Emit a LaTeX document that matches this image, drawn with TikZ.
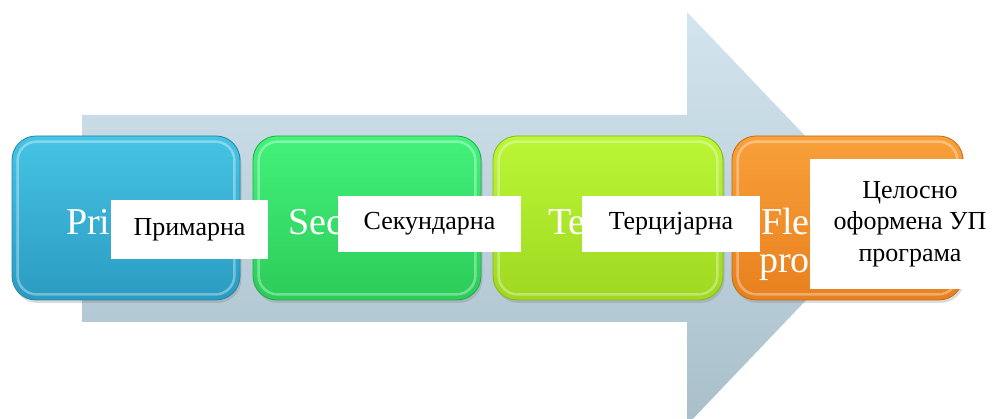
\documentclass[tikz,border=0pt]{standalone}
\usepackage{fontspec}
\setmainfont{Liberation Serif}
\usetikzlibrary{shadows}

% colours of the process boxes and the backdrop arrow
\definecolor{cyantop}{HTML}{46C4E4}
\definecolor{cyanbot}{HTML}{2A9BC1}
\definecolor{cyanedge}{HTML}{2682A5}
\definecolor{greentop}{HTML}{42F27B}
\definecolor{greenbot}{HTML}{2CCC58}
\definecolor{greenedge}{HTML}{24A84A}
\definecolor{limetop}{HTML}{BBF737}
\definecolor{limebot}{HTML}{9FD820}
\definecolor{limeedge}{HTML}{86B81A}
\definecolor{orangetop}{HTML}{F8A03A}
\definecolor{orangebot}{HTML}{E8801E}
\definecolor{orangeedge}{HTML}{C56A15}
\definecolor{arrowtop}{HTML}{D3E5EF}
\definecolor{arrowbot}{HTML}{A8BFCA}

\begin{document}
\begin{tikzpicture}[x=1pt,y=-1pt,
  stepbox/.style={rounded corners=24pt, minimum width=#1, minimum height=164pt,
    inner sep=0pt, line width=0.8pt,
    drop shadow={opacity=0.28, shadow xshift=1.5pt, shadow yshift=-3pt}},
  bevel/.style={draw=white, draw opacity=0.35, line width=2.5pt, rounded corners=19pt},
  boxword/.style={text=white, font=\fontsize{38}{38}\selectfont, inner sep=0pt, anchor=base west},
  labelbox/.style={fill=white, inner sep=0pt, font=\fontsize{26}{31.5}\selectfont,
    text=black, align=center},
]
\useasboundingbox (0,0) rectangle (994,419);
\begin{scope}
\clip (0,0) rectangle (994,419);

% backdrop arrow
\path[top color=arrowtop, bottom color=arrowbot]
  (82,115) -- (687,115) -- (687,12) -- (884,218.5) -- (687,425) -- (687,322) -- (82,322) -- cycle;

% process boxes
\foreach \i/\cx/\w/\c in {1/126/228pt/cyan, 2/367/228pt/green, 3/608/230pt/lime, 4/847.5/231pt/orange} {
  \node[stepbox=\w, top color=\c top, bottom color=\c bot, draw=\c edge] (b\i) at (\cx,218) {};
  \draw[bevel] ([shift={(6pt,-6pt)}]b\i.north west) rectangle ([shift={(-6pt,6pt)}]b\i.south east);
}

% box captions
\node[boxword] (t1) at (66,235) {Pri};
\node[boxword] (t2) at (288,235) {Sec};
\node[boxword] (t3) at (548,235) {Te};
\node[boxword] (t4a) at (761,235) {Fle};
\node[boxword] (t4b) at (759,273) {pro};

% labels
\node[labelbox, minimum width=157pt, minimum height=59pt] (w1) at (189.5,229.5) {Примарна};
\node[labelbox, minimum width=183pt, minimum height=56pt] (w2) at (429.5,224) {Секундарна};
\node[labelbox, minimum width=178pt, minimum height=56pt] (w3) at (671,224) {Терцијарна};
\node[labelbox, minimum width=200pt, minimum height=130pt] (w4) at (910,224) {Целосно\\оформена УП\\програма};
\end{scope}
\end{tikzpicture}
\end{document}
